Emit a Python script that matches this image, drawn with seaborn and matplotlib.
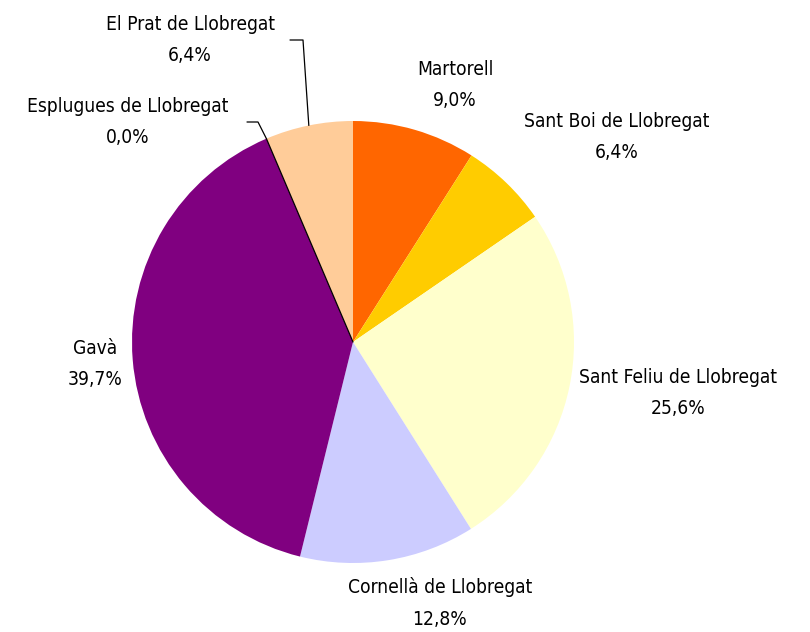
import matplotlib.pyplot as plt
import seaborn as sns
import numpy as np

# dados
municipis = ["Martorell", "Sant Boi de Llobregat", "Sant Feliu de Llobregat",
             "Cornellà de Llobregat", "Gavà", "Esplugues de Llobregat",
             "El Prat de Llobregat"]
percent = [9.0, 6.4, 25.6, 12.8, 39.7, 0.0, 6.4]
colors = ["#FF6600", "#FFCC00", "#FFFFCC", "#CCCCFF", "#800080", "#000000", "#FFCC99"]

# posicao dos rotulos (pixels, origem em cima)
label_pos = [(455, 85), (617, 137), (678, 393), (440, 603), (95, 364), (128, 122), (190, 40)]

sns.set_style("white")
plt.rcParams["font.family"] = ["DejaVu Sans"]
plt.rcParams["font.stretch"] = "condensed"

W, H = 810, 632
fig = plt.figure(figsize=(W / 100, H / 100), dpi=100)
ax = fig.add_axes([0, 0, 1, 1])

cx, cy, r = 353, H - 342, 221
wedges, _ = ax.pie(percent, colors=colors, startangle=90, counterclock=False,
                   center=(cx, cy), radius=r, wedgeprops=dict(linewidth=0),
                   frame=True)
ax.set_xlim(0, W)
ax.set_ylim(0, H)
ax.set_aspect("equal")
ax.axis("off")

# fatia zero como linha preta
for w, v in zip(wedges, percent):
    if v == 0:
        a = np.deg2rad(w.theta1)
        ax.plot([cx, cx + r * np.cos(a)], [cy, cy + r * np.sin(a)], color="black", lw=0.9)

# rotulos
for w, nome, v, (lx, ly) in zip(wedges, municipis, percent, label_pos):
    txt = f"{nome}\n{v:.1f}%".replace(".", ",")
    ax.text(lx, H - ly, txt, ha="center", va="center", fontsize=13.8,
            fontstretch="condensed", linespacing=1.85, color="black")

# linhas de chamada
def leader(idx, x0, y0, x1):
    w = wedges[idx]
    a = np.deg2rad((w.theta1 + w.theta2) / 2)
    ex, ey = cx + r * np.cos(a), cy + r * np.sin(a)
    ax.plot([x0, x1, ex], [H - y0, H - y0, ey], color="black", lw=0.9)

leader(6, 290, 40, 303)
leader(5, 247, 122, 258)

fig.savefig("out.png", dpi=100)
